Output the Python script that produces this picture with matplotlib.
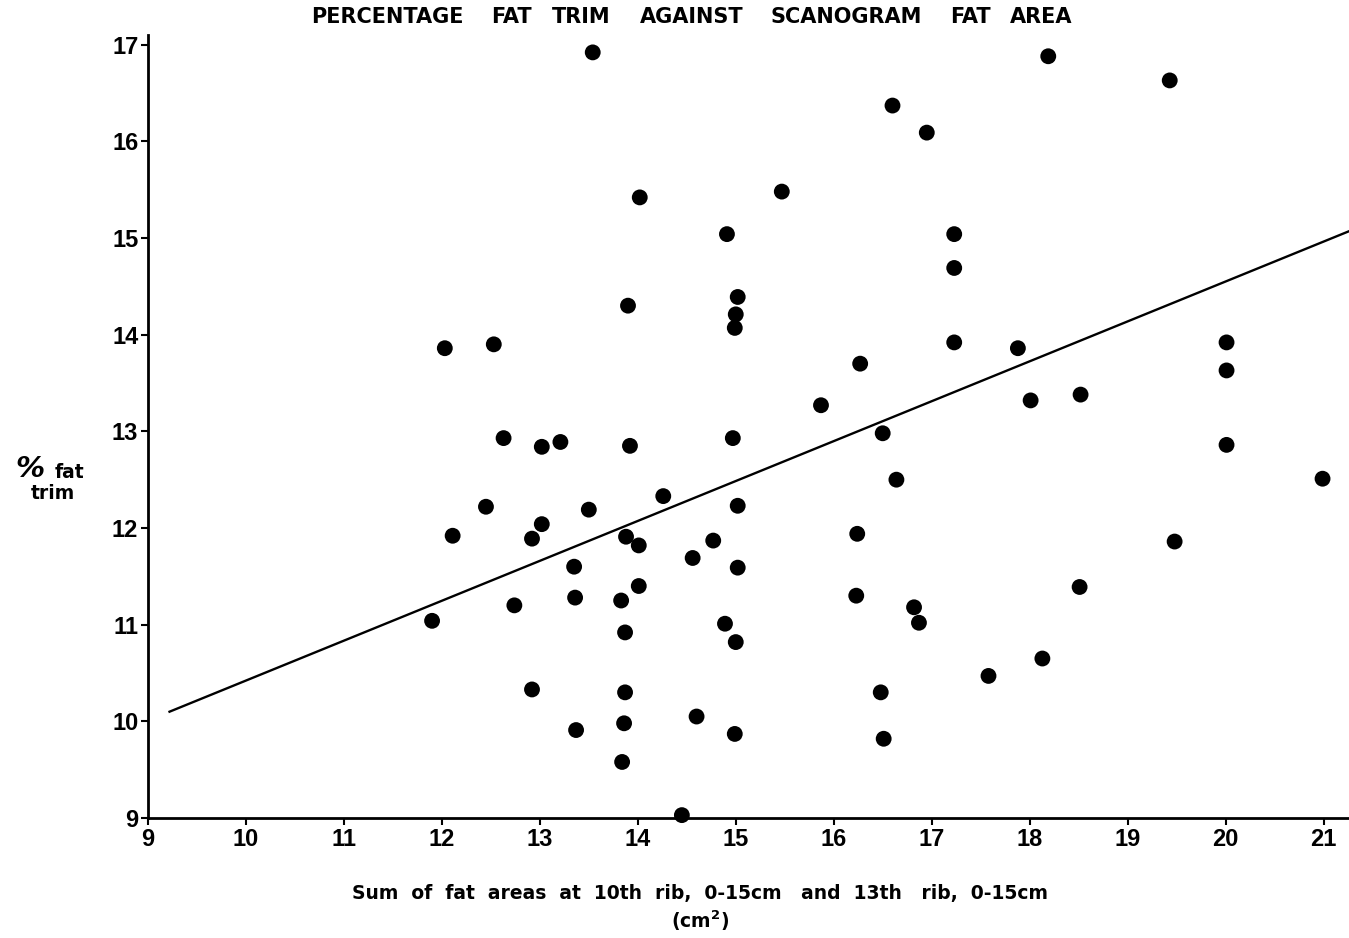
import matplotlib.pyplot as plt
import numpy as np

plt.rcParams['font.family'] = ['Liberation Sans', 'DejaVu Sans']

# scanogram fat area (cm2) and % fat trim
fat_area = [13.54, 18.19, 19.43, 16.60, 16.95, 14.02, 15.47, 14.91, 17.23, 17.23,
            13.90, 15.02, 15.00, 14.99, 12.03, 12.53, 17.23, 17.88, 20.01, 16.27,
            20.01, 18.52, 18.01, 15.87, 12.63, 13.21, 13.02, 13.92, 14.97, 16.50,
            20.01, 16.64, 20.99, 14.26, 12.45, 13.50, 15.02, 13.02, 12.11, 12.92,
            13.88, 16.24, 14.77, 19.48, 14.01, 14.56, 13.35, 15.02, 14.01, 18.51,
            13.36, 16.23, 12.74, 13.83, 16.82, 11.90, 16.87, 14.89, 13.87, 15.00,
            18.13, 17.58, 12.92, 13.87, 16.48, 14.60, 13.86, 13.37, 14.99, 16.51,
            13.84, 14.45]
fat_trim = [16.92, 16.88, 16.63, 16.37, 16.09, 15.42, 15.48, 15.04, 15.04, 14.69,
            14.30, 14.39, 14.21, 14.07, 13.86, 13.90, 13.92, 13.86, 13.92, 13.70,
            13.63, 13.38, 13.32, 13.27, 12.93, 12.89, 12.84, 12.85, 12.93, 12.98,
            12.86, 12.50, 12.51, 12.33, 12.22, 12.19, 12.23, 12.04, 11.92, 11.89,
            11.91, 11.94, 11.87, 11.86, 11.82, 11.69, 11.60, 11.59, 11.40, 11.39,
            11.28, 11.30, 11.20, 11.25, 11.18, 11.04, 11.02, 11.01, 10.92, 10.82,
            10.65, 10.47, 10.33, 10.30, 10.30, 10.05, 9.98, 9.91, 9.87, 9.82,
            9.58, 9.03]

# regression line end points
line_x = [9.22, 21.26]
line_y = [10.10, 15.07]

x_ticks = list(range(9, 22))
y_ticks = list(range(9, 18))

title_words = ['PERCENTAGE', 'FAT', 'TRIM', 'AGAINST', 'SCANOGRAM', 'FAT', 'AREA']
title_left = [311, 491, 552, 640, 770, 950, 1010]  # pixel positions of each word

W, H = 1349, 938
fig = plt.figure(figsize=(W / 100, H / 100), dpi=100)
ax = fig.add_axes([0.1097, 0.1279, 0.8903, 0.8348])

ax.plot(line_x, line_y, color='black', lw=1.7, zorder=2)
ax.scatter(fat_area, fat_trim, s=130, color='black', edgecolors='none', zorder=3, clip_on=False)

ax.set_xlim(9, 21.26)
ax.set_ylim(9, 17.1)
ax.set_xticks(x_ticks)
ax.set_yticks(y_ticks)
ax.tick_params(axis='both', direction='out', length=5, width=1.5, labelsize=17, pad=2)
for lab in ax.get_xticklabels() + ax.get_yticklabels():
    lab.set_fontweight('bold')
    lab.set_family(['Liberation Sans Narrow', 'Liberation Sans'])
for s in ['top', 'right']:
    ax.spines[s].set_visible(False)
for s in ['left', 'bottom']:
    ax.spines[s].set_linewidth(2)

bold = dict(fontweight='bold', family=['DejaVu Sans'])
for word, px in zip(title_words, title_left):
    fig.text(px / W, 1 - 17 / H, word, ha='left', va='center', fontsize=15, **bold)

fig.text(352 / W, 1 - 893 / H, 'Sum  of  fat  areas  at  10th  rib,  0-15cm   and  13th   rib,  0-15cm',
         ha='left', va='center', fontsize=13.5, **bold)
fig.text(700 / W, 1 - 921 / H, '(cm$^\\mathbf{2}$)', ha='center', va='center', fontsize=13.5, **bold)
fig.text(15 / W, 1 - 469 / H, '%', ha='left', va='center', fontsize=21, style='italic', **bold)
fig.text(55 / W, 1 - 472 / H, 'fat', ha='left', va='center', fontsize=13.5, **bold)
fig.text(53 / W, 1 - 493 / H, 'trim', ha='center', va='center', fontsize=13.5, **bold)

plt.savefig('out.png', dpi=100)
